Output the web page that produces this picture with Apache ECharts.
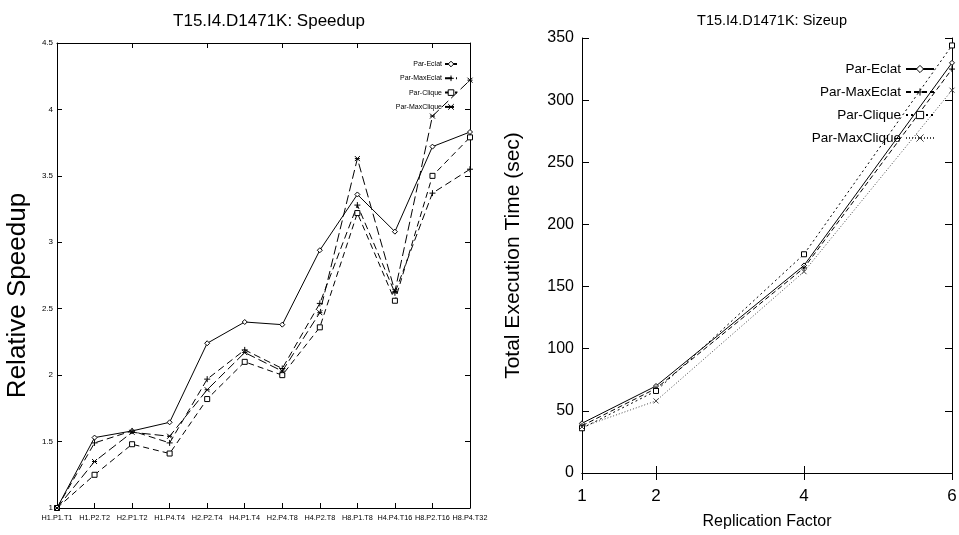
<!DOCTYPE html>
<html>
<head>
<meta charset="utf-8">
<script src="https://cdn.jsdelivr.net/npm/echarts@6/dist/echarts.min.js"></script>
<style>
html,body{margin:0;padding:0;background:#fff;}
#left{position:absolute;left:0;top:0;width:492px;height:535px;}
#right{position:absolute;left:480px;top:0;width:479px;height:535px;}
</style>
</head>
<body>
<div id="left"></div>
<div id="right"></div>
<script>
// ---------- Speedup chart data ----------
const speedupCategories = ['H1.P1.T1','H1.P2.T2','H2.P1.T2','H1.P4.T4','H2.P2.T4','H4.P1.T4','H2.P4.T8','H4.P2.T8','H8.P1.T8','H4.P4.T16','H8.P2.T16','H8.P4.T32'];
const speedupParEclat    = [1, 1.53, 1.58, 1.645, 2.24, 2.40, 2.38, 2.94, 3.36, 3.08, 3.72, 3.83];
const speedupParMaxEclat = [1, 1.49, 1.58, 1.49, 1.97, 2.19, 2.05, 2.54, 3.28, 2.62, 3.37, 3.55];
const speedupParClique   = [1, 1.25, 1.48, 1.41, 1.82, 2.10, 2.00, 2.36, 3.22, 2.56, 3.50, 3.79];
const speedupParMaxClique= [1, 1.35, 1.57, 1.54, 1.89, 2.17, 2.03, 2.47, 3.63, 2.63, 3.95, 4.22];

// ---------- Sizeup chart data ----------
const replicationFactor = [1, 2, 4, 6];
const sizeupTicks = [1, 2, 4, 6];
const sizeupParEclat     = [40, 70, 167, 330];
const sizeupParMaxEclat  = [38, 68, 165, 325];
const sizeupParClique    = [36, 66, 176, 344];
const sizeupParMaxClique = [37, 58, 162, 308];

const seriesNames = ['Par-Eclat','Par-MaxEclat','Par-Clique','Par-MaxClique'];

const FONT = '"Liberation Sans", Arial, Helvetica, sans-serif';

const DIAMOND = 'path://M5,0 L10,5 L5,10 L0,5 Z';
const SQUARE = 'path://M0,0 L10,0 L10,10 L0,10 Z';
const PLUS = 'path://M5,0 L5,10 M0,5 L10,5';
const CROSS = 'path://M0,0 L10,10 M10,0 L0,10';
const STAR = 'path://M0,0 L10,10 M10,0 L0,10 M0,5 L10,5';

function pairs(xs, ys){ return xs.map((x,i)=>[x, ys[i]]); }

function mkSeries(name, data, symbol, size, dash, color, fill){
  return {
    name: name, type: 'line', data: data,
    symbol: symbol, symbolSize: size, showSymbol: true,
    lineStyle: {color: color, width: 1, type: dash},
    itemStyle: {color: fill, borderColor: color, borderWidth: 1},
    emphasis: {disabled: true},
    animation: false, z: 3
  };
}

const axisLine = {show: true, lineStyle: {color: '#000', width: 1}};
const tick = (len, extra) => Object.assign({show: true, inside: true, length: len, lineStyle: {color: '#000'}}, extra || {});

// ---------- Left chart ----------
const left = echarts.init(document.getElementById('left'), null, {renderer: 'canvas'});
left.setOption({
  animation: false,
  title: {
    text: 'T15.I4.D1471K: Speedup', left: 264, top: 8, textAlign: 'center',
    textStyle: {fontFamily: FONT, fontSize: 17, fontWeight: 'normal', color: '#000'}
  },
  legend: {
    data: seriesNames, orient: 'vertical', right: 29, top: 55, align: 'right',
    itemWidth: 12, itemHeight: 7, itemGap: 5, selectedMode: false,
    itemStyle: {borderWidth: 1},
    textStyle: {fontFamily: FONT, fontSize: 7, color: '#000', lineHeight: 8, padding: [0, -2, 0, 0]}
  },
  grid: {left: 57, right: 22, top: 43, bottom: 27, containLabel: false, outerBoundsMode: 'none'},
  xAxis: [{
    type: 'category', data: speedupCategories, boundaryGap: false,
    axisLine: axisLine, axisTick: tick(5),
    axisLabel: {fontFamily: FONT, fontSize: 7.3, color: '#000', margin: 6, interval: 0},
    splitLine: {show: false}
  },{
    type: 'category', data: speedupCategories, boundaryGap: false, position: 'top',
    axisLine: axisLine, axisTick: tick(5),
    axisLabel: {show: false}, splitLine: {show: false}
  }],
  yAxis: [{
    type: 'value', min: 1, max: 4.5, interval: 0.5,
    name: 'Relative Speedup', nameLocation: 'middle', nameGap: 26,
    nameTextStyle: {fontFamily: FONT, fontSize: 26, color: '#000', padding: [0, 40, 0, 0]},
    axisLine: axisLine, axisTick: tick(5),
    axisLabel: {fontFamily: FONT, fontSize: 8, color: '#000', margin: 4},
    splitLine: {show: false}
  },{
    type: 'value', min: 1, max: 4.5, interval: 0.5, position: 'right',
    axisLine: axisLine, axisTick: tick(5),
    axisLabel: {show: false}, splitLine: {show: false}
  }],
  series: [
    mkSeries('Par-Eclat', speedupParEclat, DIAMOND, 5, 'solid', '#000', '#fff'),
    mkSeries('Par-MaxEclat', speedupParMaxEclat, PLUS, 6, [7,4], '#000', 'none'),
    mkSeries('Par-Clique', speedupParClique, SQUARE, 5, [6,4], '#000', '#fff'),
    mkSeries('Par-MaxClique', speedupParMaxClique, STAR, 5, [9,4], '#000', 'none')
  ]
});

// ---------- Right chart ----------
const right = echarts.init(document.getElementById('right'), null, {renderer: 'canvas'});
right.setOption({
  animation: false,
  title: {
    text: 'T15.I4.D1471K: Sizeup', left: 287, top: 8, textAlign: 'center',
    textStyle: {fontFamily: FONT, fontSize: 14.5, fontWeight: 'normal', color: '#000'}
  },
  legend: {
    data: seriesNames, orient: 'vertical', right: 19, top: 57, align: 'right',
    itemWidth: 28, itemHeight: 9, itemGap: 9, selectedMode: false,
    itemStyle: {borderWidth: 1},
    textStyle: {fontFamily: FONT, fontSize: 13.5, color: '#000', lineHeight: 14}
  },
  grid: {left: 102, right: 7, top: 38, bottom: 62, containLabel: false, outerBoundsMode: 'none'},
  xAxis: [{
    type: 'value', min: 1, max: 6,
    name: 'Replication Factor', nameLocation: 'middle', nameGap: 41,
    nameTextStyle: {fontFamily: FONT, fontSize: 16, color: '#000'},
    axisLine: axisLine, axisTick: tick(7, {customValues: sizeupTicks}),
    axisLabel: {fontFamily: FONT, fontSize: 17, color: '#000', margin: 15, customValues: sizeupTicks},
    splitLine: {show: false}
  },{
    type: 'value', min: 1, max: 6, position: 'top',
    axisLine: axisLine, axisTick: tick(7, {customValues: sizeupTicks}),
    axisLabel: {show: false, customValues: sizeupTicks}, splitLine: {show: false}
  }],
  yAxis: [{
    type: 'value', min: 0, max: 350, interval: 50,
    name: 'Total Execution Time (sec)', nameLocation: 'middle', nameGap: 58,
    nameTextStyle: {fontFamily: FONT, fontSize: 21, color: '#000'},
    axisLine: axisLine, axisTick: tick(7),
    axisLabel: {fontFamily: FONT, fontSize: 16, color: '#000', margin: 8},
    splitLine: {show: false}
  },{
    type: 'value', min: 0, max: 350, interval: 50, position: 'right',
    axisLine: axisLine, axisTick: tick(7),
    axisLabel: {show: false}, splitLine: {show: false}
  }],
  series: [
    mkSeries('Par-Eclat', pairs(replicationFactor, sizeupParEclat), DIAMOND, 5, 'solid', '#000', '#fff'),
    mkSeries('Par-MaxEclat', pairs(replicationFactor, sizeupParMaxEclat), PLUS, 6, [5,3], '#000', 'none'),
    mkSeries('Par-Clique', pairs(replicationFactor, sizeupParClique), SQUARE, 5, [2,3], '#000', '#fff'),
    mkSeries('Par-MaxClique', pairs(replicationFactor, sizeupParMaxClique), CROSS, 5, [1,2], '#444', 'none')
  ]
});
</script>
</body>
</html>
